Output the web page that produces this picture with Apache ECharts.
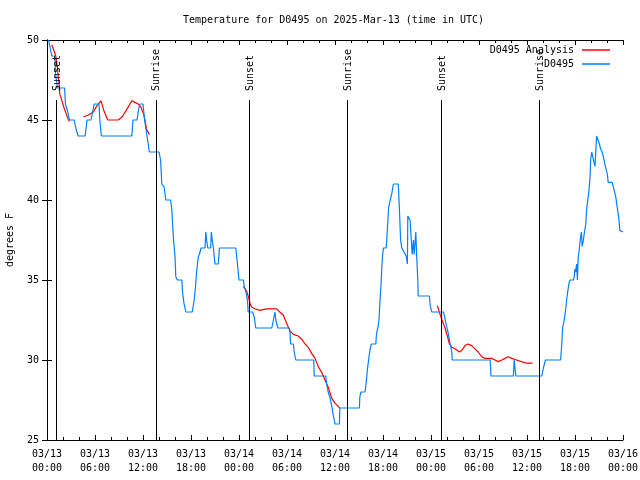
<!DOCTYPE html>
<html>
<head>
<meta charset="utf-8">
<script src="https://cdn.jsdelivr.net/npm/echarts@6/dist/echarts.min.js"></script>
<style>html,body{margin:0;padding:0;background:#fff}#c{width:640px;height:480px}</style>
</head>
<body>
<div id="c"></div>
<script>
// hours since 2025-03-13 00:00 UTC, temperature in degrees F
const obsSeries = [[0.2,50],[0.4,49.5],[0.6,49],[1.0,49],[1.05,48],[1.3,47],[2.2,47],[2.3,46],[2.6,45.5],[2.8,45],[3.4,45],[3.6,44.5],[3.9,44],[4.75,44],[4.9,44.5],[5.0,45],[5.5,45],[5.7,45.5],[5.9,46],[6.5,46],[6.6,45],[6.8,44],[10.6,44],[10.75,45],[11.25,45],[11.4,45.5],[11.6,46],[12.0,46],[12.2,45],[12.5,44],[12.8,43],[14.0,43],[14.2,42.5],[14.35,41],[14.65,40.8],[14.85,40],[15.45,40],[15.6,39.4],[15.8,37.6],[16.0,36.5],[16.1,35.2],[16.3,35],[16.85,35],[16.95,34.2],[17.1,33.6],[17.35,33],[18.15,33],[18.4,33.75],[18.55,34.5],[18.7,35.5],[18.9,36.4],[19.1,36.7],[19.25,37],[19.75,37],[19.85,38],[19.95,37.5],[20.1,37],[20.45,37],[20.55,38],[20.65,37.5],[20.8,37],[21.0,36],[21.4,36],[21.5,36.6],[21.55,37],[23.6,37],[23.7,36.5],[23.85,35.8],[24.0,35],[24.55,35],[24.65,34.6],[24.9,34.2],[25.05,33.75],[25.15,33],[25.7,33],[25.9,32.7],[26.1,32],[28.1,32],[28.3,32.5],[28.5,33],[28.6,32.5],[28.85,32],[30.3,32],[30.4,31.6],[30.45,31],[30.8,31],[30.9,30.5],[31.1,30],[33.35,30],[33.4,29],[34.85,29],[34.95,28.5],[35.15,28],[35.4,27.6],[35.6,27.1],[35.8,26.5],[36.0,26],[36.55,26],[36.6,27],[39.05,27],[39.1,27.7],[39.25,28],[39.75,28],[39.9,28.6],[40.05,29.4],[40.25,30.2],[40.4,30.7],[40.55,31],[41.1,31],[41.2,31.7],[41.35,32],[41.5,32.5],[41.6,33.5],[41.75,34.7],[41.9,36.25],[42.05,37],[42.4,37],[42.55,38.2],[42.7,39.5],[42.9,40],[43.1,40.4],[43.3,41],[43.9,41],[43.95,40.6],[44.05,39.4],[44.2,37.5],[44.35,37],[44.6,37],[44.9,36.5],[45.05,36],[45.1,39],[45.3,39],[45.4,38.7],[45.45,38.2],[45.65,36.6],[45.8,37.5],[45.9,36.6],[46.1,38],[46.2,36.6],[46.35,35],[46.4,34],[47.8,34],[47.9,33.4],[48.1,33],[49.55,33],[49.75,32.6],[49.95,32.1],[50.15,31.7],[50.4,31],[50.6,30.5],[50.65,30],[55.4,30],[55.5,29],[58.3,29],[58.4,30],[58.6,29],[61.85,29],[62.05,29.5],[62.3,30],[64.2,30],[64.35,31],[64.45,32],[64.65,32.5],[64.85,33.2],[64.95,33.75],[65.1,34.3],[65.25,34.8],[65.4,35],[65.8,35],[65.9,35.2],[66.0,35.7],[66.1,35.5],[66.2,36],[66.3,35],[66.4,36.4],[66.55,37],[66.7,37.7],[66.8,38],[66.9,37.1],[67.05,37.5],[67.15,37.9],[67.35,38.5],[67.45,39.4],[67.6,40],[67.75,40.6],[67.9,41.6],[67.95,42.5],[68.1,43],[68.2,43],[68.3,42.5],[68.4,42.3],[68.5,42.1],[68.6,43.1],[68.7,44],[68.9,44],[69.05,43.5],[69.2,43.2],[69.4,43],[69.55,42.7],[69.75,42.2],[69.9,41.9],[70.05,41.6],[70.15,41.1],[70.65,41.1],[70.8,40.8],[70.9,40.6],[71.1,40.2],[71.2,39.8],[71.35,39.3],[71.5,38.75],[71.6,38.1],[71.75,38],[72,38]];

const analysisSeg1 = [[0.6,49.7],[0.9,49.3],[1.1,49],[1.3,48.3],[1.4,47.7],[1.55,47.1],[1.6,46.6],[1.75,46.4],[1.95,46.35],[2.1,45.8],[2.4,45.4],[2.6,45.1],[2.8,44.9]];
const analysisSeg2 = [[4.55,45.2],[5.1,45.3],[5.8,45.5],[6.25,45.9],[6.75,46.2],[7.1,45.6],[7.6,45.0],[8.9,45.0],[9.4,45.2],[9.9,45.6],[10.6,46.2],[11.0,46.1],[11.4,46.0],[11.75,45.8],[12.05,45.4],[12.25,45.0],[12.45,44.4],[12.8,44.1]];
const analysisSeg3 = [[24.55,34.6],[24.95,34.3],[25.15,34.0],[25.4,33.5],[25.6,33.3],[26.0,33.2],[26.6,33.1],[27.45,33.2],[28.7,33.2],[29.1,33.0],[29.55,32.8],[29.95,32.3],[30.4,31.8],[30.8,31.6],[31.4,31.5],[31.85,31.3],[32.25,31.0],[32.65,30.8],[33.1,30.4],[33.5,30.1],[33.9,29.6],[34.35,29.2],[34.75,28.75],[35.15,28.3],[35.6,27.6],[36.0,27.3],[36.4,27.1],[36.6,27.0]];
const analysisSeg4 = [[48.8,33.4],[49.1,32.9],[49.45,32.4],[49.75,32.0],[50.05,31.5],[50.3,31.0],[50.6,30.8],[51.0,30.7],[51.55,30.5],[51.85,30.6],[52.25,30.9],[52.6,31.0],[53.1,30.9],[53.5,30.7],[53.9,30.5],[54.35,30.2],[54.75,30.1],[55.6,30.1],[56.0,30.0],[56.4,29.9],[56.85,30.0],[57.25,30.1],[57.65,30.2],[58.1,30.1],[58.7,30.0],[59.3,29.9],[59.95,29.8],[60.7,29.8]];

const sunEventHours = [1.2, 13.6, 25.3, 37.55, 49.3, 61.55];
const sunEventNames = ['Sunset', 'Sunrise', 'Sunset', 'Sunrise', 'Sunset', 'Sunrise'];

const yTicks = [25, 30, 35, 40, 45, 50];
const xStartDay = 13;

const FONT = 'DejaVu Sans Mono';
const LINE_TOP = 46.25;   // where the event line stops (below its label)
const LABEL_BASE = 46.75; // where the event label starts

function pad(n){ return (n < 10 ? '0' : '') + n; }
function xLabel(v){
  const d = xStartDay + Math.floor(v / 24);
  const h = v % 24;
  return '03/' + pad(d) + '\n' + pad(h) + ':00';
}

const markData = [];
sunEventHours.forEach((h, i) => {
  markData.push([{coord: [h, yTicks[0]]}, {coord: [h, LINE_TOP]}]);
  markData.push([
    {coord: [h, LABEL_BASE], name: sunEventNames[i],
     lineStyle: {color: 'rgba(0,0,0,0)', width: 1},
     label: {show: true, position: 'insideStartTop', formatter: '{b}', distance: [1, -6],
             fontFamily: FONT, fontSize: 10, color: '#000'}},
    {coord: [h, yTicks[yTicks.length - 1]]}
  ]);
});

const chart = echarts.init(document.getElementById('c'), null, {renderer: 'canvas'});
const axisLine = {show: true, lineStyle: {color: '#000', width: 1}};
const redStyle = {color: '#ff0000', width: 1.2};
function anaSeries(data){
  return {name: 'D0495 Analysis', type: 'line', data: data, showSymbol: false, symbol: 'none',
          lineStyle: redStyle, itemStyle: {color: '#ff0000'}, animation: false, z: 2};
}
chart.setOption({
  animation: false,
  backgroundColor: '#fff',
  title: {text: 'Temperature for D0495 on 2025-Mar-13 (time in UTC)', left: 183, top: 15, padding: 0,
          textStyle: {fontFamily: FONT, fontSize: 10, fontWeight: 'normal', color: '#000'}},
  legend: [
    {data: [{name: 'D0495 Analysis'}], right: 30, top: 45, padding: 0, align: 'right', orient: 'vertical',
     icon: 'rect', itemWidth: 28, itemHeight: 1.5,
     textStyle: {fontFamily: FONT, fontSize: 10, color: '#000', padding: [0, 3, 0, 0]}},
    {data: [{name: 'D0495'}], right: 30, top: 59, padding: 0, align: 'right', orient: 'vertical',
     icon: 'rect', itemWidth: 28, itemHeight: 1.5,
     textStyle: {fontFamily: FONT, fontSize: 10, color: '#000', padding: [0, 3, 0, 0]}}
  ],
  grid: {left: 47, right: 17, top: 40, bottom: 40, containLabel: false, outerBoundsMode: 'none', show: false},
  xAxis: [
    {type: 'value', min: 0, max: 72, interval: 6, position: 'bottom',
     axisLine: axisLine, splitLine: {show: false},
     axisTick: {show: true, inside: true, length: 5, lineStyle: {color: '#000'}},
     minorTick: {show: true, splitNumber: 3, length: 3, lineStyle: {color: '#000'}},
     axisLabel: {formatter: xLabel, fontFamily: FONT, fontSize: 10, color: '#000', lineHeight: 14, margin: 7,
                 showMinLabel: true, showMaxLabel: true, hideOverlap: false}},
    {type: 'value', min: 0, max: 72, interval: 6, position: 'top',
     axisLine: axisLine, splitLine: {show: false},
     axisTick: {show: true, inside: true, length: 5, lineStyle: {color: '#000'}},
     minorTick: {show: true, splitNumber: 3, length: 3, lineStyle: {color: '#000'}},
     axisLabel: {show: false}}
  ],
  yAxis: [
    {type: 'value', min: yTicks[0], max: yTicks[yTicks.length - 1], interval: 5, position: 'left',
     name: 'degrees F', nameLocation: 'middle', nameGap: 32, nameRotate: 90,
     nameTextStyle: {fontFamily: FONT, fontSize: 10, color: '#000'},
     axisLine: axisLine, splitLine: {show: false},
     axisTick: {show: true, inside: true, length: 5, lineStyle: {color: '#000'}},
     axisLabel: {fontFamily: FONT, fontSize: 10, color: '#000', margin: 8}},
    {type: 'value', min: yTicks[0], max: yTicks[yTicks.length - 1], interval: 5, position: 'right',
     axisLine: axisLine, splitLine: {show: false},
     axisTick: {show: true, inside: true, length: 5, lineStyle: {color: '#000'}},
     axisLabel: {show: false}}
  ],
  series: [
    anaSeries(analysisSeg1), anaSeries(analysisSeg2), anaSeries(analysisSeg3), anaSeries(analysisSeg4),
    {name: 'D0495', type: 'line', data: obsSeries, showSymbol: false, symbol: 'none',
     lineStyle: {color: '#0080ff', width: 1.2}, itemStyle: {color: '#0080ff'}, z: 3,
     markLine: {silent: true, symbol: ['none', 'none'], animation: false,
                lineStyle: {color: '#000', width: 1, type: 'solid'},
                label: {show: false}, emphasis: {disabled: true},
                data: markData}}
  ]
});
</script>
</body>
</html>
